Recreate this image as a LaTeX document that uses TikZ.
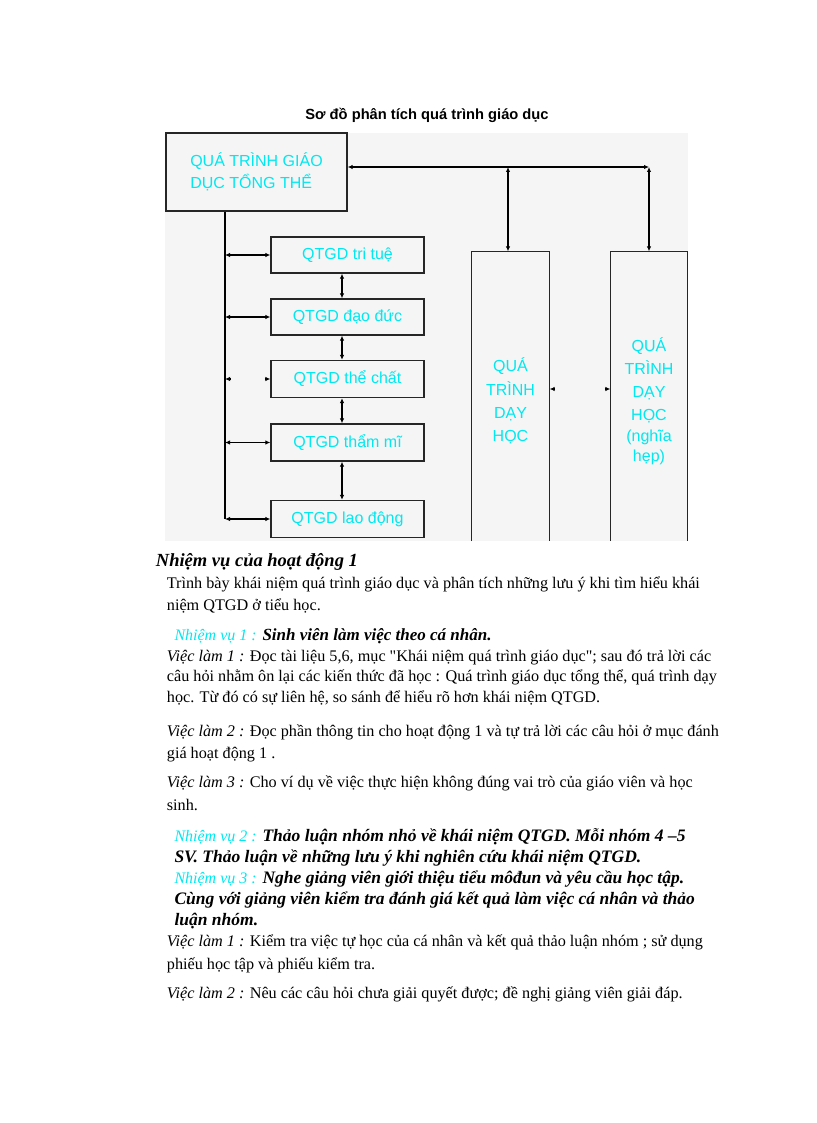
\documentclass[tikz,border=0pt]{standalone}
\usepackage{fontspec}
\setmainfont{Liberation Serif}[Ligatures=TeXOff]
\newfontfamily\arialf{Liberation Sans}
\usetikzlibrary{arrows.meta}
\definecolor{cy}{RGB}{0,232,240}
\newcommand\nvlbl[1]{{\mdseries\itshape\fontsize{16}{21}\selectfont\color{cy}#1}}
\begin{document}
\begin{tikzpicture}[x=1pt,y=-1pt,
 box/.style={draw=black!85, line width=1.3pt, rectangle, inner sep=0pt, font=\arialf\fontsize{16}{22}\selectfont, text=cy},
 tall/.style={box, draw=none, align=center, font=\arialf\fontsize{16}{23.2}\selectfont},
 edge/.style={draw=black!85, line width=1.3pt},
 bidir/.style={{Latex[length=5pt,width=4.5pt]}-{Latex[length=5pt,width=4.5pt]}, line width=1.1pt},
 tip/.style={-{Latex[length=5pt,width=4.5pt]}, line width=1.1pt},
 body/.style={anchor=base west, inner sep=0pt, font=\fontsize{16.2}{22}\selectfont},
 task/.style={anchor=base west, inner sep=0pt, font=\bfseries\itshape\fontsize{17.5}{21}\selectfont}]
\useasboundingbox (0,0) rectangle (816,1123);
\fill[white] (0,0) rectangle (816,1123);
% diagram background
\fill[black!4] (165,133) rectangle (688,541);
\coordinate (bgbot) at (165,541);
\node[anchor=base, inner sep=0pt, font=\arialf\bfseries\fontsize{14.7}{16}\selectfont] (title) at (427,120) {Sơ đồ phân tích quá trình giáo dục};
% boxes
\node[box, minimum width=181pt, minimum height=78pt, align=left] (tong) at (256.5,172) {QUÁ TRÌNH GIÁO\\DỤC TỔNG THỂ};
\node[box, minimum width=153pt, minimum height=36pt] (tt) at (347.5,255) {QTGD tri tuệ};
\node[box, minimum width=153pt, minimum height=36pt] (dd) at (347.5,317) {QTGD đạo đức};
\node[box, minimum width=153pt, minimum height=37pt] (tc) at (347.5,379) {QTGD thể chất};
\node[box, minimum width=153pt, minimum height=37pt] (tm) at (347.5,442.5) {QTGD thẩm mĩ};
\node[box, minimum width=153pt, minimum height=37pt] (ld) at (347.5,519) {QTGD lao động};
\node[tall, minimum width=77pt, minimum height=298pt] (dh1) at (510.5,401) {QUÁ\\TRÌNH\\DẠY\\HỌC};
\node[tall, minimum width=76pt, minimum height=298pt] (dh2) at (649,401) {QUÁ\\TRÌNH\\DẠY\\HỌC\\[-2.5pt](nghĩa\\[-3pt]hẹp)};
\draw[edge] (dh1.south west |- bgbot) -- (dh1.north west) -- (dh1.north east) -- (dh1.south east |- bgbot);
\draw[edge] (dh2.south west |- bgbot) -- (dh2.north west) -- (dh2.north east) -- (dh2.south east |- bgbot);
% top connectors
\coordinate (corner) at (649,167);
\draw[bidir] (tong.east |- corner) -- (corner);
\draw[bidir] ([xshift=-2.5pt]dh1.north |- corner) -- ([xshift=-2.5pt]dh1.north);
\draw[bidir] (corner) -- (dh2.north);
% left bus
\coordinate (bus) at (225,211);
\draw[line width=1.2pt] (tong.south -| bus) -- (ld.west -| bus);
\draw[bidir] (tt.west -| bus) -- (tt.west);
\draw[bidir] (dd.west -| bus) -- (dd.west);
\draw[bidir] (tm.west -| bus) -- (tm.west);
\draw[bidir] (ld.west -| bus) -- (ld.west);
\coordinate (tcb) at (tc.west -| bus);
\draw[tip] ([xshift=5.5pt]tcb) -- (tcb);
\draw[tip] ([xshift=-5.5pt]tc.west) -- (tc.west);
% vertical links between small boxes
\draw[bidir] ([xshift=-5.5pt]tt.south) -- ([xshift=-5.5pt]dd.north);
\draw[bidir] ([xshift=-5.5pt]dd.south) -- ([xshift=-5.5pt]tc.north);
\draw[bidir] ([xshift=-5.5pt]tc.south) -- ([xshift=-5.5pt]tm.north);
\draw[bidir] ([xshift=-5.5pt]tm.south) -- ([xshift=-5.5pt]ld.north);
% tips between tall boxes
\draw[tip] ([xshift=5.5pt,yshift=12pt]dh1.east) -- ([yshift=12pt]dh1.east);
\draw[tip] ([xshift=-5.5pt,yshift=12pt]dh2.west) -- ([yshift=12pt]dh2.west);
% text
\node[anchor=base west, inner sep=0pt, font=\bfseries\itshape\fontsize{18.5}{24}\selectfont] (h1) at (155.7,566) {Nhiệm vụ của hoạt động 1};
\node[body] (b1) at (166.7,588.3) {Trình bày khái niệm quá trình giáo dục và phân tích những lưu ý khi tìm hiểu khái};
\node[body] (b2) at (166.7,610) {niệm QTGD ở tiểu học.};
\node[task] (n1) at (174.3,640) {\nvlbl{Nhiệm vụ 1 :} {\fontsize{17}{21}\selectfont Sinh viên làm việc theo cá nhân.}};
\node[body] (v1) at (166.7,661.7) {\textit{Việc làm 1 :} Đọc tài liệu 5,6, mục "Khái niệm quá trình giáo dục"; sau đó trả lời các};
\node[body] (v1b) at (166.7,681.7) {câu hỏi nhằm ôn lại các kiến thức đã học : Quá trình giáo dục tổng thể, quá trình dạy};
\node[body] (v1c) at (166.7,702.7) {học. Từ đó có sự liên hệ, so sánh để hiểu rõ hơn khái niệm QTGD.};
\node[body] (v2) at (166.7,736.7) {\textit{Việc làm 2 :} Đọc phần thông tin cho hoạt động 1 và tự trả lời các câu hỏi ở mục đánh};
\node[body] (v2b) at (166.7,758.3) {giá hoạt động 1 .};
\node[body] (v3) at (166.7,787.3) {\textit{Việc làm 3 :} Cho ví dụ về việc thực hiện không đúng vai trò của giáo viên và học};
\node[body] (v3b) at (166.7,810.7) {sinh.};
\node[task] (n2) at (174.3,841.7) {\nvlbl{Nhiệm vụ 2 :} Thảo luận nhóm nhỏ về khái niệm QTGD. Mỗi nhóm 4 –5};
\node[task] (n2b) at (174.3,862.7) {SV. Thảo luận về những lưu ý khi nghiên cứu khái niệm QTGD.};
\node[task] (n3) at (174.3,883.3) {\nvlbl{Nhiệm vụ 3 :} Nghe giảng viên giới thiệu tiểu môđun và yêu cầu học tập.};
\node[task] (n3b) at (174.3,904.3) {Cùng với giảng viên kiểm tra đánh giá kết quả làm việc cá nhân và thảo};
\node[task] (n3c) at (174.3,925) {luận nhóm.};
\node[body] (w1) at (166.7,946.7) {\textit{Việc làm 1 :} Kiểm tra việc tự học của cá nhân và kết quả thảo luận nhóm ; sử dụng};
\node[body] (w1b) at (166.7,969.3) {phiếu học tập và phiếu kiểm tra.};
\node[body] (w2) at (166.7,998.3) {\textit{Việc làm 2 :} Nêu các câu hỏi chưa giải quyết được; đề nghị giảng viên giải đáp.};
\end{tikzpicture}
\end{document}
